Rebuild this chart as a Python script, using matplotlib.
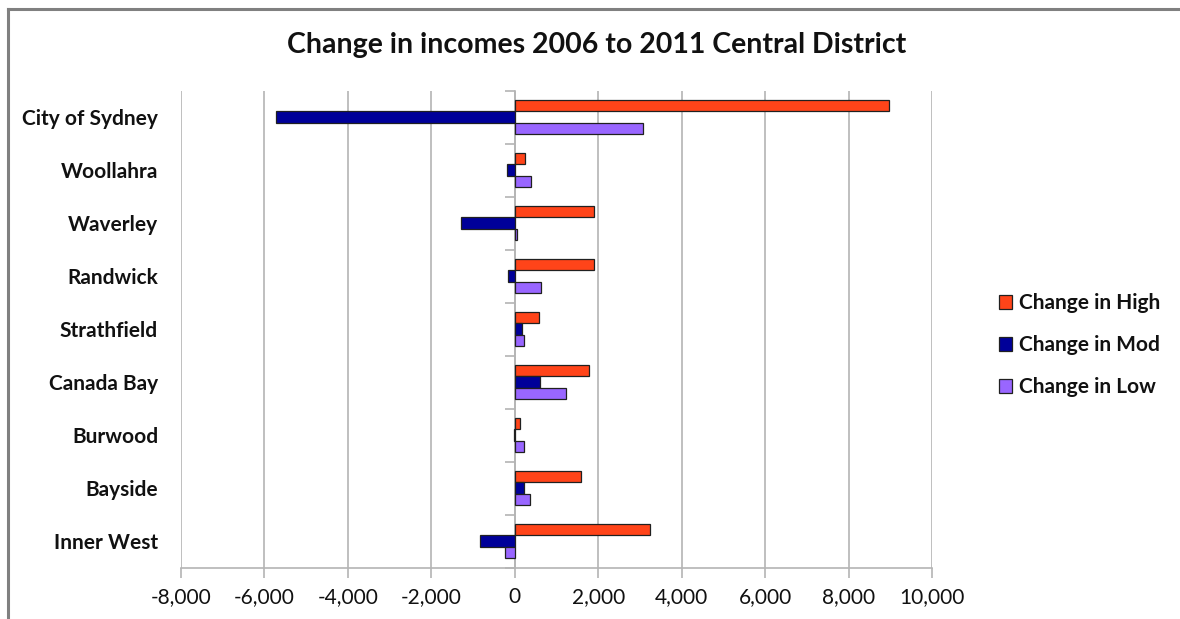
import matplotlib
matplotlib.use("Agg")
import matplotlib.pyplot as plt
from matplotlib.ticker import FuncFormatter
from matplotlib.lines import Line2D
import numpy as np

plt.rcParams['font.family'] = ['Lato', 'DejaVu Sans']

categories = ["City of Sydney", "Woollahra", "Waverley", "Randwick", "Strathfield",
              "Canada Bay", "Burwood", "Bayside", "Inner West"]
change_high = [8980, 256, 1890, 1890, 590, 1790, 127, 1590, 3230]
change_mod = [-5725, -177, -1300, -160, 180, 600, -25, 230, -840]
change_low = [3070, 380, 60, 620, 230, 1230, 230, 360, -225]
series_names = ["Change in High", "Change in Mod", "Change in Low"]
colors = ["#FF4419", "#000099", "#9966FF"]
xticks = list(range(-8000, 10001, 2000))

fig = plt.figure(figsize=(11.8, 6.19), dpi=100)
ax = fig.add_axes([181/1180, 1-567.5/619, (932-181)/1180, (567.5-90.5)/619])

y = np.arange(len(categories))
h = 0.22
for i, (vals, name, c) in enumerate(zip([change_high, change_mod, change_low], series_names, colors)):
    ax.barh(y + (i-1)*h, vals, height=h, color=c, edgecolor="#202020", linewidth=0.9,
            label=name, zorder=3)

ax.set_xlim(-8000, 10000)
ax.set_ylim(len(categories)-0.5, -0.5)
ax.set_xticks(xticks)
ax.xaxis.set_major_formatter(FuncFormatter(lambda v, p: f"{int(v):,}"))
ax.grid(axis='x', color="#B4B4B4", linewidth=1.2, zorder=0)
ax.set_yticks(y, categories)
for lab in ax.get_yticklabels():
    lab.set_fontweight('bold')
ax.tick_params(axis='y', length=0, pad=16.5, labelsize=15, labelcolor="#111111")
ax.tick_params(axis='x', length=7, color="#B4B4B4", width=1.2, labelsize=15, pad=7, labelcolor="#111111")
for s in ['top', 'right', 'left']:
    ax.spines[s].set_visible(False)
ax.spines['bottom'].set_color("#B4B4B4")
ax.spines['bottom'].set_linewidth(1.2)

# zero axis with category boundary ticks
sec = ax.secondary_yaxis(8000/18000)
sec.set_yticks(np.arange(len(categories)+1) - 0.5)
sec.yaxis.set_ticks_position('left')
sec.tick_params(length=7, color="#B4B4B4", width=1.2, labelleft=False, labelright=False)
for s in sec.spines.values():
    s.set_color("#B4B4B4")
    s.set_linewidth(1.2)

fig.text(597/1180, 1-45/619, "Change in incomes 2006 to 2011 Central District",
         ha='center', va='center', fontsize=20.5, fontweight='bold', color="#111111")

leg = fig.legend(loc='center left', bbox_to_anchor=(980/1180, 1-345/619), frameon=False,
                 prop={'weight': 'bold', 'size': 15}, handlelength=0.65, handleheight=0.65,
                 handletextpad=0.3, labelspacing=1.05)
for t in leg.get_texts():
    t.set_color("#111111")

# outer border
fig.add_artist(Line2D([8/1180, 8/1180], [0, 1-9/619], color="#808080", linewidth=2.2,
                      transform=fig.transFigure))
fig.add_artist(Line2D([8/1180, 1], [1-9/619, 1-9/619], color="#808080", linewidth=2.2,
                      transform=fig.transFigure))

fig.savefig("out.png", dpi=100)
